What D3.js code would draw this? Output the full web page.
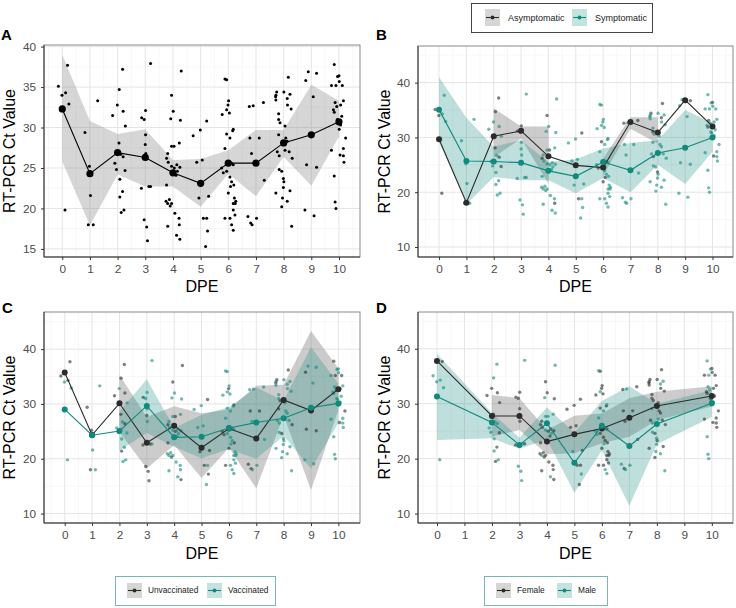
<!DOCTYPE html>
<html><head><meta charset="utf-8">
<script src="https://cdn.jsdelivr.net/npm/d3@7"></script>
<style>
body{margin:0;background:#fff}
svg{display:block;font-family:"Liberation Sans",Arial,sans-serif}
</style>
</head><body>
<svg id="chart" width="736" height="608"></svg>
<script>
const N = null;
const dpe = [0,1,2,3,4,5,6,7,8,9,10];
const yTicksA = [15,20,25,30,35,40];
const yTicksBCD = [10,20,30,40];

// Panel A: all patients
const meanAll = [32.3, 24.3, 26.9, 26.3, 24.4, 23.1, 25.6, 25.6, 28.1, 29.1, 30.7];
const loAll   = [25.8, 17.9, 24.2, 22.7, 22.7, 20.2, 24.3, 21.5, 26.4, 22.8, 28.9];
const hiAll   = [39.0, 30.8, 29.2, 29.8, 26.0, 26.1, 27.2, 29.7, 29.7, 35.3, 33.3];

// Panel B: symptoms
const meanAsym = [29.65, 18.1, 30.2, 31.2, 26.55, 24.9, 24.5, 32.8, 30.9, 36.8, 32.0];
const loAsym   = [N, N, 26.4, 29.8, 21.6, N, 23.1, 31.6, 28.9, N, N];
const hiAsym   = [N, N, 35.3, 32.0, 32.0, N, 26.1, 33.7, 33.7, N, N];
const meanSym  = [35.07, 25.7, 25.6, 25.4, 23.9, 22.9, 25.5, 24.0, 27.15, 28.1, 30.0];
const loSym    = [29.1, 17.8, 22.8, 22.2, 22.2, 19.8, 22.6, 20.0, 25.0, 21.5, 27.4];
const hiSym    = [41.0, 33.6, 28.3, 29.5, 25.5, 26.0, 28.0, 29.0, 29.5, 35.0, 32.6];

// Panel C: vaccination
const meanUnvac = [35.73, 24.33, 30.12, 22.93, 26.04, 22.0, 25.5, 23.7, 30.73, 28.8, 32.7];
const loUnvac   = [N, N, 24.9, 18.2, 22.5, 16.5, 22.0, 14.6, 27.9, 14.3, 28.9];
const hiUnvac   = [N, N, 35.3, 27.6, 29.6, 28.3, 29.0, 33.3, 33.5, 43.3, 36.5];
const meanVac   = [29.0, 24.3, 25.06, 29.63, 23.9, 24.0, 25.6, 26.6, 27.4, 29.3, 30.1];
const loVac     = [N, N, 21.5, 24.7, 22.2, 20.1, 21.8, 20.0, 24.2, 18.2, 26.5];
const hiVac     = [N, N, 28.6, 34.5, 25.6, 28.0, 29.4, 33.0, 30.6, 40.4, 33.7];

// Panel D: sex
const meanFemale = [37.8, N, 27.77, 27.77, 23.1, 24.42, 25.5, 27.46, 29.6, N, 31.4];
const loFemale   = [N, N, 24.0, 25.2, 20.8, 21.0, 22.8, 24.0, 27.0, N, 29.5];
const hiFemale   = [N, N, 31.6, 31.0, 25.2, 27.8, 28.2, 31.0, 32.2, N, 33.2];
const meanMale   = [31.3, N, 26.6, 22.5, 26.43, 19.25, 26.0, 22.3, 26.3, N, 30.08];
const loMale     = [23.4, N, 23.7, 21.8, 23.5, 13.8, 21.5, 11.4, 22.6, N, 27.6];
const hiMale     = [39.1, N, 28.3, 23.8, 29.3, 24.7, 30.5, 33.2, 30.0, N, 32.5];

// Individual samples: [jittered DPE, Ct, symptom a/s, vaccine u/v, sex f/m/-]
const samples = [
[-0.14,35.1,'a','u','m'],[-0.01,34.0,'a','v','m'],[0.12,34.3,'s','u','m'],[0.19,37.7,'s','u','f'],[0.24,32.9,'s','v','m'],[0.10,19.8,'a','v','m'],
[0.82,29.4,'s','u','-'],[0.98,25.2,'s','u','-'],[1.02,21.6,'s','v','-'],[0.94,18.0,'a','u','-'],[1.12,18.0,'s','v','-'],[1.28,33.3,'s','v','-'],
[1.82,31.5,'s','u','f'],[1.99,32.8,'s','v','f'],[2.06,34.7,'a','u','m'],[2.18,37.2,'a','u','m'],[2.20,32.0,'s','u','f'],[2.28,30.2,'s','v','f'],
[2.05,28.1,'a','u','f'],[2.11,26.7,'s','v','m'],[2.20,26.4,'a','u','m'],[1.90,25.6,'s','v','m'],[1.96,24.8,'s','v','m'],[2.27,24.7,'a','v','f'],
[2.08,23.6,'s','v','m'],[2.18,22.1,'s','v','f'],[2.08,21.4,'s','u','m'],[2.23,19.8,'s','v','m'],[2.13,19.5,'s','v','f'],
[2.87,31.2,'a','u','f'],[2.96,31.0,'a','v','f'],[3.01,32.1,'a','v','f'],[3.01,29.1,'s','v','f'],[3.00,27.9,'s','u','f'],[3.02,26.8,'s','v','f'],
[2.86,22.5,'s','u','f'],[3.13,22.7,'s','u','m'],[3.19,22.7,'s','v','f'],[2.96,18.6,'s','u','m'],[3.05,17.7,'s','u','m'],[3.08,16.0,'s','u','m'],[3.19,37.9,'s','v','m'],
[3.95,34.0,'a','u','f'],[4.01,32.0,'s','v','f'],[3.92,31.1,'s','v','m'],[4.04,27.7,'a','u','m'],[3.95,27.7,'s','v','m'],[3.81,26.8,'s','v','f'],
[3.77,26.2,'a','u','f'],[3.83,25.7,'s','v','f'],[3.95,25.2,'s','v','m'],[4.05,25.0,'s','u','f'],[4.14,25.4,'s','v','f'],[4.16,24.6,'s','v','m'],
[4.25,25.1,'s','v','f'],[4.11,24.1,'s','v','f'],[3.77,22.9,'s','u','f'],[3.75,20.9,'s','v','f'],[3.81,20.6,'s','v','m'],[3.87,21.1,'s','v','f'],
[3.90,20.3,'s','u','f'],[3.95,20.6,'s','v','f'],[3.81,17.8,'s','v','f'],[4.07,19.4,'s','v','f'],[4.22,18.8,'s','v','f'],[4.23,18.0,'a','v','f'],
[4.13,16.7,'s','v','m'],[4.25,16.2,'s','u','f'],[4.27,30.9,'s','v','f'],[4.23,28.1,'s','v','m'],[4.30,37.0,'s','u','m'],
[4.73,29.0,'s','v','f'],[4.99,29.7,'s','v','f'],[5.06,26.0,'s','v','f'],[5.22,30.8,'a','u','f'],[4.86,25.7,'s','v','f'],[4.94,21.3,'s','u','m'],
[5.10,18.8,'a','u','f'],[5.22,18.8,'s','v','f'],[5.25,17.2,'s','u','m'],[5.18,15.3,'s','v','f'],[5.29,21.5,'s','u','f'],
[5.88,36.0,'s','v','m'],[5.94,35.9,'s','v','f'],[5.94,32.2,'s','v','m'],[6.04,31.8,'s','v','f'],[5.99,32.8,'s','u','f'],[6.01,33.3,'s','v','f'],
[5.78,31.6,'s','v','f'],[5.88,27.4,'s','v','m'],[5.94,29.2,'a','v','f'],[6.06,28.7,'s','v','m'],[6.18,29.8,'s','u','m'],[6.16,29.6,'s','v','f'],
[5.76,25.0,'s','u','m'],[5.82,24.4,'a','u','m'],[5.94,24.6,'s','v','f'],[6.02,25.8,'s','u','f'],[6.12,25.6,'s','v','m'],[6.18,25.4,'s','v','f'],
[6.06,23.9,'s','v','f'],[6.08,22.7,'a','v','m'],[6.12,23.3,'s','v','f'],[6.20,22.9,'s','u','f'],[6.18,20.6,'s','v','f'],[6.22,21.3,'s','v','f'],
[6.27,20.9,'s','v','f'],[6.00,21.9,'a','u','f'],[5.88,18.8,'s','u','f'],[6.06,18.8,'s','v','f'],[6.12,18.0,'s','v','m'],[6.18,17.3,'s','v','m'],
[6.24,19.2,'s','v','f'],[6.25,20.6,'s','v','f'],[6.18,19.8,'s','v','f'],
[6.76,32.6,'a','v','f'],[6.90,32.7,'s','v','m'],[7.27,33.1,'a','v','f'],[6.78,28.7,'s','u','f'],[7.12,28.7,'s','u','f'],[6.84,26.8,'s','v','f'],
[7.30,23.5,'s','v','f'],[6.71,19.0,'s','u','m'],[6.81,18.2,'s','u','f'],[6.86,18.0,'s','v','m'],[7.02,18.8,'s','v','m'],
[7.75,34.4,'a','u','f'],[7.72,34.0,'s','u','f'],[7.72,33.4,'s','v','f'],[7.71,33.8,'s','v','f'],[8.01,34.4,'s','v','f'],[8.13,33.6,'a','v','m'],
[8.23,34.1,'s','v','m'],[8.17,36.2,'a','u','f'],[8.14,32.8,'s','v','f'],[8.27,32.3,'s','v','f'],[7.82,31.7,'s','v','f'],[7.82,31.0,'a','v','f'],
[7.87,30.6,'s','u','f'],[8.05,30.2,'s','v','f'],[7.82,29.1,'s','u','m'],[8.08,28.7,'s','v','f'],[8.13,28.3,'s','v','f'],[8.05,27.2,'s','v','m'],
[8.20,27.0,'s','v','f'],[8.31,26.2,'s','u','f'],[7.77,27.0,'s','v','f'],[7.84,26.5,'a','v','m'],[7.72,21.9,'s','v','f'],[7.96,21.3,'s','v','m'],
[8.13,20.9,'s','v','m'],[8.23,22.2,'s','v','f'],[7.93,20.2,'s','v','f'],[8.29,17.8,'s','v','m'],[7.84,24.8,'s','v','m'],[7.93,24.6,'s','u','f'],
[7.99,23.7,'a','v','m'],[8.01,23.3,'s','v','f'],[7.99,22.6,'s','v','m'],
[8.80,35.8,'s','u','-'],[8.89,36.9,'s','v','-'],[9.19,36.7,'a','v','-'],[9.07,33.8,'s','v','-'],[8.83,25.4,'s','u','-'],[9.19,25.1,'s','u','-'],
[8.77,19.8,'s','v','-'],[9.10,19.1,'s','v','-'],
[9.83,37.8,'s','u','m'],[9.95,36.3,'s','v','m'],[10.00,36.4,'a','v','f'],[10.01,35.7,'s','v','f'],[9.89,35.2,'s','u','m'],[10.12,35.2,'s','u','f'],
[9.73,35.2,'s','v','f'],[9.80,32.2,'s','v','f'],[9.83,31.9,'a','v','f'],[9.86,33.1,'a','v','m'],[9.92,32.6,'s','v','m'],[10.06,32.8,'s','v','f'],
[10.16,33.3,'s','v','f'],[10.06,30.3,'s','v','m'],[10.01,29.8,'s','v','m'],[9.98,30.8,'s','v','f'],[9.94,31.0,'s','v','m'],[10.10,31.4,'s','v','f'],
[10.24,28.7,'s','u','f'],[9.73,27.2,'s','v','f'],[10.04,26.6,'a','u','f'],[10.16,26.5,'s','v','f'],[10.16,27.4,'s','v','f'],[10.18,25.7,'s','v','f'],
[9.83,24.0,'s','v','m'],[9.86,20.8,'s','v','m'],[9.89,20.0,'s','v','m']
];

const DARK = '#2b2b2b', TEAL = '#0f8a7c';
const svg = d3.select('#chart');
svg.append('rect').attr('width',736).attr('height',608).attr('fill','#fff');

const xMinor = [-0.5,0.5,1.5,2.5,3.5,4.5,5.5,6.5,7.5,8.5,9.5,10.5];

function drawPanel(p) {
  const x = d3.scaleLinear().domain(p.xd).range([p.l, p.r]);
  const y = d3.scaleLinear().domain(p.yd).range([p.b, p.t]);
  const g = svg.append('g');
  const clipId = 'clip' + p.label;
  g.append('clipPath').attr('id', clipId).append('rect')
    .attr('x', p.l).attr('y', p.t).attr('width', p.r - p.l).attr('height', p.b - p.t);
  const pg = g.append('g').attr('clip-path', `url(#${clipId})`);
  // grid
  xMinor.forEach(v => pg.append('line').attr('x1', x(v)).attr('x2', x(v)).attr('y1', p.t).attr('y2', p.b)
    .attr('stroke', '#f3f3f3').attr('stroke-width', 0.7));
  p.yMinor.forEach(v => pg.append('line').attr('y1', y(v)).attr('y2', y(v)).attr('x1', p.l).attr('x2', p.r)
    .attr('stroke', '#f3f3f3').attr('stroke-width', 0.7));
  dpe.forEach(v => pg.append('line').attr('x1', x(v)).attr('x2', x(v)).attr('y1', p.t).attr('y2', p.b)
    .attr('stroke', '#e5e5e5').attr('stroke-width', 1));
  p.yTicks.forEach(v => pg.append('line').attr('y1', y(v)).attr('y2', y(v)).attr('x1', p.l).attr('x2', p.r)
    .attr('stroke', '#e5e5e5').attr('stroke-width', 1));

  // ribbons
  p.series.forEach(s => {
    let rows = dpe.map((d, i) => ({d, m: s.mean[i], lo: s.lo[i], hi: s.hi[i]}));
    const area = d3.area().x(r => x(r.d)).y0(r => y(r.lo)).y1(r => y(r.hi));
    if (p.skipGaps) rows = rows.filter(r => r.lo != null);
    else area.defined(r => r.lo != null);
    pg.append('path').attr('d', area(rows)).attr('fill', s.fill).attr('fill-opacity', s.fillOpacity);
  });

  // jittered samples
  p.series.forEach(s => {
    pg.selectAll(null).data(samples.filter(s.pick)).enter().append('circle')
      .attr('cx', d => x(d[0])).attr('cy', d => y(d[1])).attr('r', p.ptR)
      .attr('fill', s.color).attr('fill-opacity', p.ptOpacity);
  });

  // mean lines and dots
  p.series.forEach(s => {
    const rows = dpe.map((d, i) => ({d, m: s.mean[i]})).filter(r => r.m != null);
    const line = d3.line().x(r => x(r.d)).y(r => y(r.m));
    pg.append('path').attr('d', line(rows)).attr('fill', 'none').attr('stroke', s.color).attr('stroke-width', 1.1);
    pg.selectAll(null).data(rows).enter().append('circle')
      .attr('cx', r => x(r.d)).attr('cy', r => y(r.m)).attr('r', p.meanR).attr('fill', s.color);
  });

  // border
  g.append('rect').attr('x', p.l).attr('y', p.t).attr('width', p.r - p.l).attr('height', p.b - p.t)
    .attr('fill', 'none').attr('stroke', '#8a8a8a').attr('stroke-width', 1);
  g.append('path').attr('d', `M${p.l},${p.t}V${p.b}H${p.r}`).attr('fill', 'none')
    .attr('stroke', '#333').attr('stroke-width', 1);

  // axes
  const ax = g.append('g').attr('transform', `translate(0,${p.b})`)
    .call(d3.axisBottom(x).tickValues(dpe).tickFormat(d3.format('d')).tickSize(3).tickPadding(5));
  const ay = g.append('g').attr('transform', `translate(${p.l},0)`)
    .call(d3.axisLeft(y).tickValues(p.yTicks).tickFormat(d3.format('d')).tickSize(3).tickPadding(5));
  [ax, ay].forEach(a => {
    a.select('.domain').remove();
    a.selectAll('line').attr('stroke', '#333');
    a.selectAll('text').attr('fill', '#4d4d4d').style('font-size', '11.8px')
      .style('font-family', '"Liberation Sans",Arial,sans-serif');
  });

  // titles
  g.append('text').attr('x', (p.l + p.r) / 2).attr('y', p.xTitleY).attr('text-anchor', 'middle')
    .style('font-size', '16px').attr('fill', '#000').text('DPE');
  g.append('text').attr('transform', `translate(${p.yTitleX},${(p.t + p.b) / 2}) rotate(-90)`)
    .attr('text-anchor', 'middle').style('font-size', '16px').attr('fill', '#000').text('RT-PCR Ct Value');
  g.append('text').attr('x', p.labX).attr('y', p.labY).style('font-size', '15px').style('font-weight', 'bold')
    .attr('fill', '#000').text(p.label);
}

const minorA = [17.5, 22.5, 27.5, 32.5, 37.5];
const minorBCD = [15, 25, 35, 45];
const GRAYFILL = '#7f7f7f';

drawPanel({label: 'A', l: 44, t: 45, r: 360, b: 257, xd: [-0.66, 10.76], yd: [14.0, 40.2],
  yTicks: yTicksA, yMinor: minorA, xTitleY: 292, yTitleX: 15, labX: 1, labY: 40,
  ptR: 1.5, ptOpacity: 1, meanR: 3.6, skipGaps: false,
  series: [{mean: meanAll, lo: loAll, hi: hiAll, color: '#000', fill: GRAYFILL, fillOpacity: 0.32, pick: d => true}]});

drawPanel({label: 'B', l: 418, t: 46, r: 733, b: 257, xd: [-0.77, 10.75], yd: [8.18, 46.68],
  yTicks: yTicksBCD, yMinor: minorBCD, xTitleY: 292, yTitleX: 390, labX: 376, labY: 40,
  ptR: 1.7, ptOpacity: 0.6, meanR: 3, skipGaps: false,
  series: [
    {mean: meanAsym, lo: loAsym, hi: hiAsym, color: DARK, fill: GRAYFILL, fillOpacity: 0.4, pick: d => d[2] === 'a'},
    {mean: meanSym, lo: loSym, hi: hiSym, color: TEAL, fill: TEAL, fillOpacity: 0.27, pick: d => d[2] === 's'}]});

drawPanel({label: 'C', l: 44, t: 312, r: 360, b: 523, xd: [-0.757, 10.79], yd: [8.28, 46.77],
  yTicks: yTicksBCD, yMinor: minorBCD, xTitleY: 559, yTitleX: 15, labX: 2, labY: 313,
  ptR: 1.7, ptOpacity: 0.6, meanR: 3, skipGaps: false,
  series: [
    {mean: meanUnvac, lo: loUnvac, hi: hiUnvac, color: DARK, fill: GRAYFILL, fillOpacity: 0.4, pick: d => d[3] === 'u'},
    {mean: meanVac, lo: loVac, hi: hiVac, color: TEAL, fill: TEAL, fillOpacity: 0.27, pick: d => d[3] === 'v'}]});

drawPanel({label: 'D', l: 418, t: 312, r: 733, b: 523, xd: [-0.69, 10.77], yd: [8.28, 46.7],
  yTicks: yTicksBCD, yMinor: minorBCD, xTitleY: 559, yTitleX: 390, labX: 376, labY: 313,
  ptR: 1.7, ptOpacity: 0.6, meanR: 3, skipGaps: true,
  series: [
    {mean: meanFemale, lo: loFemale, hi: hiFemale, color: DARK, fill: GRAYFILL, fillOpacity: 0.4, pick: d => d[4] === 'f'},
    {mean: meanMale, lo: loMale, hi: hiMale, color: TEAL, fill: TEAL, fillOpacity: 0.27, pick: d => d[4] === 'm'}]});

// legends
function legend(box, border, keyH, fontSize, items) {
  const g = svg.append('g');
  g.append('rect').attr('x', box[0] + 0.5).attr('y', box[1] + 0.5).attr('width', box[2] - box[0])
    .attr('height', box[3] - box[1]).attr('fill', '#fff').attr('stroke', border).attr('stroke-width', 1);
  const cy = (box[1] + box[3]) / 2;
  items.forEach(it => {
    g.append('rect').attr('x', it.kx).attr('y', cy - keyH / 2).attr('width', 15).attr('height', keyH)
      .attr('fill', it.fill);
    g.append('line').attr('x1', it.kx + 1).attr('x2', it.kx + 14).attr('y1', cy).attr('y2', cy)
      .attr('stroke', it.color).attr('stroke-width', 1.1);
    g.append('circle').attr('cx', it.kx + 7.5).attr('cy', cy).attr('r', 1.9).attr('fill', it.color);
    g.append('text').attr('x', it.tx).attr('y', cy).attr('dy', '0.35em').style('font-size', fontSize + 'px')
      .attr('fill', '#222').text(it.label);
  });
}
const KEYGRAY = '#d6d6d6', KEYTEAL = '#c4e2de';
legend([471, 3, 652, 32], '#444', 17, 9, [
  {kx: 485, tx: 508, label: 'Asymptomatic', color: DARK, fill: KEYGRAY},
  {kx: 572, tx: 595, label: 'Symptomatic', color: TEAL, fill: KEYTEAL}]);
legend([115, 576, 275, 605], '#79b8b0', 15, 8.3, [
  {kx: 127, tx: 148, label: 'Unvaccinated', color: DARK, fill: KEYGRAY},
  {kx: 207, tx: 228, label: 'Vaccinated', color: TEAL, fill: KEYTEAL}]);
legend([484, 576, 607, 605], '#79b8b0', 15, 8.3, [
  {kx: 496, tx: 517, label: 'Female', color: DARK, fill: KEYGRAY},
  {kx: 557, tx: 578, label: 'Male', color: TEAL, fill: KEYTEAL}]);
</script>
</body></html>
